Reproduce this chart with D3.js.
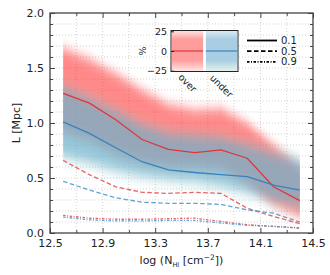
<!DOCTYPE html>
<html>
<head>
<meta charset="utf-8">
<script src="https://cdn.jsdelivr.net/npm/d3@7"></script>
<style>
body { margin: 0; background: #fff; }
text { font-family: "DejaVu Sans", sans-serif; fill: #222; }
</style>
</head>
<body>
<div id="chart"></div>
<script>
// L vs log N_HI for over / under dense regions, quantiles 0.1 / 0.5 / 0.9

let logN      = [12.6, 12.8, 13.0, 13.2, 13.4, 13.6, 13.8, 14.0, 14.2, 14.4];

// quantile lines
let overQ1    = [1.27, 1.18, 1.03, 0.85, 0.76, 0.73, 0.755, 0.68, 0.42, 0.295];
let underQ1   = [1.01, 0.905, 0.775, 0.648, 0.573, 0.55, 0.53, 0.512, 0.436, 0.39];
let overQ5    = [0.66, 0.53, 0.42, 0.37, 0.36, 0.37, 0.36, 0.225, 0.15, 0.085];
let underQ5   = [0.47, 0.39, 0.32, 0.28, 0.27, 0.27, 0.26, 0.21, 0.18, 0.10];
let overQ9    = [0.16, 0.135, 0.125, 0.125, 0.13, 0.135, 0.105, 0.075, 0.06, 0.045];
let underQ9   = [0.145, 0.12, 0.11, 0.11, 0.115, 0.115, 0.09, 0.07, 0.06, 0.045];

// spread around the 0.1 quantile
let overHi    = [1.68, 1.58, 1.45, 1.30, 1.17, 1.12, 1.13, 1.00, 0.80, 0.60];
let overLo    = [0.92, 0.84, 0.72, 0.64, 0.60, 0.60, 0.58, 0.45, 0.26, 0.15];
let underHi   = [1.32, 1.22, 1.10, 0.98, 0.90, 0.88, 0.86, 0.80, 0.72, 0.66];
let underLo   = [0.70, 0.64, 0.57, 0.52, 0.49, 0.47, 0.43, 0.37, 0.30, 0.25];

let xTicks    = [12.5, 12.9, 13.3, 13.7, 14.1, 14.5];
let xMinor    = [12.7, 13.1, 13.5, 13.9, 14.3];
let yTicks    = [0.0, 0.5, 1.0, 1.5, 2.0];

// inset
let insetCats = ["over", "under"];
let insetMid  = [0, 0];
let insetLo   = [-26, -26];
let insetHi   = [26, 26];
let insetTicks = [-25, 0, 25];

let quantLabels = ["0.1", "0.5", "0.9"];
let quantDash   = [null, "4.5,2.5", "2.5,1.5,1,1.5"];

let W = 330, H = 275;
let margin = { top: 13, right: 17, bottom: 42, left: 50 };
let pw = W - margin.left - margin.right;
let ph = H - margin.top - margin.bottom;

let svg = d3.select("#chart").append("svg")
	.attr("width", W)
	.attr("height", H);

let defs = svg.append("defs");

defs.append("filter")
	.attr("id", "soft")
	.attr("filterUnits", "userSpaceOnUse")
	.attr("x", 0).attr("y", 0).attr("width", W).attr("height", H)
	.append("feGaussianBlur")
	.attr("stdDeviation", "0 6");

defs.append("filter")
	.attr("id", "softer")
	.attr("filterUnits", "userSpaceOnUse")
	.attr("x", 0).attr("y", 0).attr("width", W).attr("height", H)
	.append("feGaussianBlur")
	.attr("stdDeviation", "0 9");

let x = d3.scaleLinear().domain([12.5, 14.5]).range([0, pw]);
let y = d3.scaleLinear().domain([0, 2]).range([ph, 0]);

let g = svg.append("g")
	.attr("transform", "translate(" + margin.left + "," + margin.top + ")");

// grid
let grid = g.append("g")
	.attr("stroke", "#c8c8c8")
	.attr("stroke-width", 0.8)
	.attr("stroke-dasharray", "1,2");

grid.selectAll(".gx")
	.data(xTicks.concat(xMinor))
	.join("line")
	.attr("x1", d => x(d)).attr("x2", d => x(d))
	.attr("y1", 0).attr("y2", ph);

grid.selectAll(".gy")
	.data(d3.range(1, 20).map(d => d / 10))
	.join("line")
	.attr("x1", 0).attr("x2", pw)
	.attr("y1", d => y(d)).attr("y2", d => y(d));

// soft bands
let band = (lo, hi) => d3.area()
	.x((d, i) => x(logN[i]))
	.y0((d, i) => y(lo[i]))
	.y1((d, i) => y(hi[i]))(logN);

g.append("path")
	.attr("d", band(overLo, overHi))
	.attr("fill", "#ff2a2a")
	.attr("opacity", 0.55)
	.attr("filter", "url(#soft)");

g.append("path")
	.attr("d", band(underLo, underHi))
	.attr("fill", "#b9e2cc")
	.attr("opacity", 0.45)
	.attr("filter", "url(#softer)");

g.append("path")
	.attr("d", band(underLo, underHi))
	.attr("fill", "#4f9fcb")
	.attr("opacity", 0.5)
	.attr("filter", "url(#soft)");

// quantile lines
let line = d3.line()
	.x((d, i) => x(logN[i]))
	.y(d => y(d));

let series = [
	{ v: overQ9,  c: "#e8474c", q: 2, a: 0.85 },
	{ v: underQ9, c: "#4a93c8", q: 2, a: 0.85 },
	{ v: overQ5,  c: "#e8474c", q: 1, a: 0.85 },
	{ v: underQ5, c: "#4a93c8", q: 1, a: 0.85 },
	{ v: overQ1,  c: "#e0353b", q: 0, a: 1 },
	{ v: underQ1, c: "#3683bd", q: 0, a: 1 }
];

series.forEach(s => {
	g.append("path")
		.attr("d", line(s.v))
		.attr("fill", "none")
		.attr("stroke", s.c)
		.attr("stroke-opacity", s.a)
		.attr("stroke-width", 1.3)
		.attr("stroke-dasharray", quantDash[s.q]);
});

// axes, ticks pointing in
let axes = g.append("g");

let styleAxis = sel => {
	sel.select(".domain").remove();
	sel.selectAll("line").attr("stroke", "#444").attr("stroke-width", 1);
	sel.selectAll("text").attr("font-size", 11).attr("fill", "#222");
};

axes.append("g")
	.attr("transform", "translate(0," + ph + ")")
	.call(d3.axisBottom(x).tickValues(xTicks).tickSize(-5).tickPadding(6).tickFormat(d3.format(".1f")))
	.call(styleAxis);
axes.append("g")
	.attr("transform", "translate(0," + ph + ")")
	.call(d3.axisBottom(x).tickValues(xMinor).tickSize(-3).tickFormat(""))
	.call(styleAxis);
axes.append("g")
	.call(d3.axisTop(x).tickValues(xTicks).tickSize(-5).tickFormat(""))
	.call(styleAxis);
axes.append("g")
	.call(d3.axisTop(x).tickValues(xMinor).tickSize(-3).tickFormat(""))
	.call(styleAxis);

axes.append("g")
	.call(d3.axisLeft(y).tickValues(yTicks).tickSize(-5).tickPadding(6).tickFormat(d3.format(".1f")))
	.call(styleAxis);
axes.append("g")
	.call(d3.axisLeft(y).tickValues(d3.range(1, 20).map(d => d / 10)).tickSize(-3).tickFormat(""))
	.call(styleAxis);
axes.append("g")
	.attr("transform", "translate(" + pw + ",0)")
	.call(d3.axisRight(y).tickValues(yTicks).tickSize(-5).tickFormat(""))
	.call(styleAxis);
axes.append("g")
	.attr("transform", "translate(" + pw + ",0)")
	.call(d3.axisRight(y).tickValues(d3.range(1, 20).map(d => d / 10)).tickSize(-3).tickFormat(""))
	.call(styleAxis);

g.append("rect")
	.attr("width", pw).attr("height", ph)
	.attr("fill", "none")
	.attr("stroke", "#444")
	.attr("stroke-width", 1.3);

// axis labels
let xl = svg.append("text")
	.attr("x", margin.left + pw / 2)
	.attr("y", 264)
	.attr("text-anchor", "middle")
	.attr("font-size", 11);
xl.append("tspan").text("log (N");
xl.append("tspan").text("HI").attr("font-size", 6.5).attr("dy", 2.5);
xl.append("tspan").text(" [cm").attr("dy", -2.5);
xl.append("tspan").text("\u22122").attr("font-size", 7.5).attr("dy", -4);
xl.append("tspan").text("])").attr("dy", 4);

svg.append("text")
	.attr("transform", "translate(20," + (margin.top + ph / 2) + ") rotate(-90)")
	.attr("text-anchor", "middle")
	.attr("font-size", 11)
	.text("L [Mpc]");

// inset
let ix = d3.scaleBand().domain(insetCats).range([172, 237]).paddingInner(0.08);
let iy = d3.scaleLinear().domain([-26, 26]).range([71.5, 30.5]);

let insetCol = [
	["#ffe4e4", "#ff9c9c", "#ff9c9c", "#ffe8e8"],
	["#dcebf2", "#a9cde2", "#a9cde2", "#e6f3ea"]
];
insetCols = insetCats.map((c, i) => {
	let gr = defs.append("linearGradient")
		.attr("id", "ig" + i)
		.attr("x1", 0).attr("y1", 0).attr("x2", 0).attr("y2", 1);
	[0, 0.22, 0.72, 1].forEach((o, k) => {
		gr.append("stop").attr("offset", o).attr("stop-color", insetCol[i][k]);
	});
});

let ins = svg.append("g");

ins.append("rect")
	.attr("x", 171).attr("y", iy(26))
	.attr("width", 67).attr("height", iy(-26) - iy(26))
	.attr("fill", "#fff");

ins.selectAll(".ibar")
	.data(insetCats)
	.join("rect")
	.attr("x", d => ix(d))
	.attr("y", (d, i) => iy(insetHi[i]))
	.attr("width", ix.bandwidth())
	.attr("height", (d, i) => iy(insetLo[i]) - iy(insetHi[i]))
	.attr("fill", (d, i) => "url(#ig" + i + ")");

ins.selectAll(".imid")
	.data(insetCats)
	.join("line")
	.attr("x1", d => ix(d))
	.attr("x2", d => ix(d) + ix.bandwidth())
	.attr("y1", (d, i) => iy(insetMid[i]))
	.attr("y2", (d, i) => iy(insetMid[i]))
	.attr("stroke", (d, i) => i == 0 ? "#e0353b" : "#3683bd")
	.attr("stroke-width", 1.2);

ins.append("rect")
	.attr("x", 171).attr("y", iy(26))
	.attr("width", 67).attr("height", iy(-26) - iy(26))
	.attr("fill", "none")
	.attr("stroke", "#222")
	.attr("stroke-width", 1);

ins.append("g")
	.attr("transform", "translate(171,0)")
	.call(d3.axisLeft(iy).tickValues(insetTicks).tickSize(-3).tickPadding(4).tickFormat(d => d < 0 ? "\u2212" + Math.abs(d) : d))
	.call(sel => {
		sel.select(".domain").remove();
		sel.selectAll("line").attr("stroke", "#222");
		sel.selectAll("text").attr("font-size", 9.5).attr("fill", "#222");
	});

ins.selectAll(".ilab")
	.data(insetCats)
	.join("text")
	.attr("transform", d => "translate(" + (ix(d) + ix.bandwidth() / 2) + "," + (d == "over" ? 83 : 86) + ") rotate(45)")
	.attr("text-anchor", "middle")
	.attr("dy", "0.35em")
	.attr("font-size", 9.5)
	.text(d => d);

svg.append("text")
	.attr("transform", "translate(146,51) rotate(-90)")
	.attr("text-anchor", "middle")
	.attr("font-size", 9.5)
	.text("%");

// legend
let leg = svg.append("g").attr("transform", "translate(247,40.5)");
quantLabels.forEach((q, i) => {
	leg.append("line")
		.attr("x1", 0).attr("x2", 30)
		.attr("y1", i * 10.7).attr("y2", i * 10.7)
		.attr("stroke", "#000")
		.attr("stroke-width", 1.8)
		.attr("stroke-dasharray", quantDash[i]);
	leg.append("text")
		.attr("x", 34)
		.attr("y", i * 10.7)
		.attr("dy", "0.35em")
		.attr("font-size", 10)
		.text(q);
});
</script>
</body>
</html>
